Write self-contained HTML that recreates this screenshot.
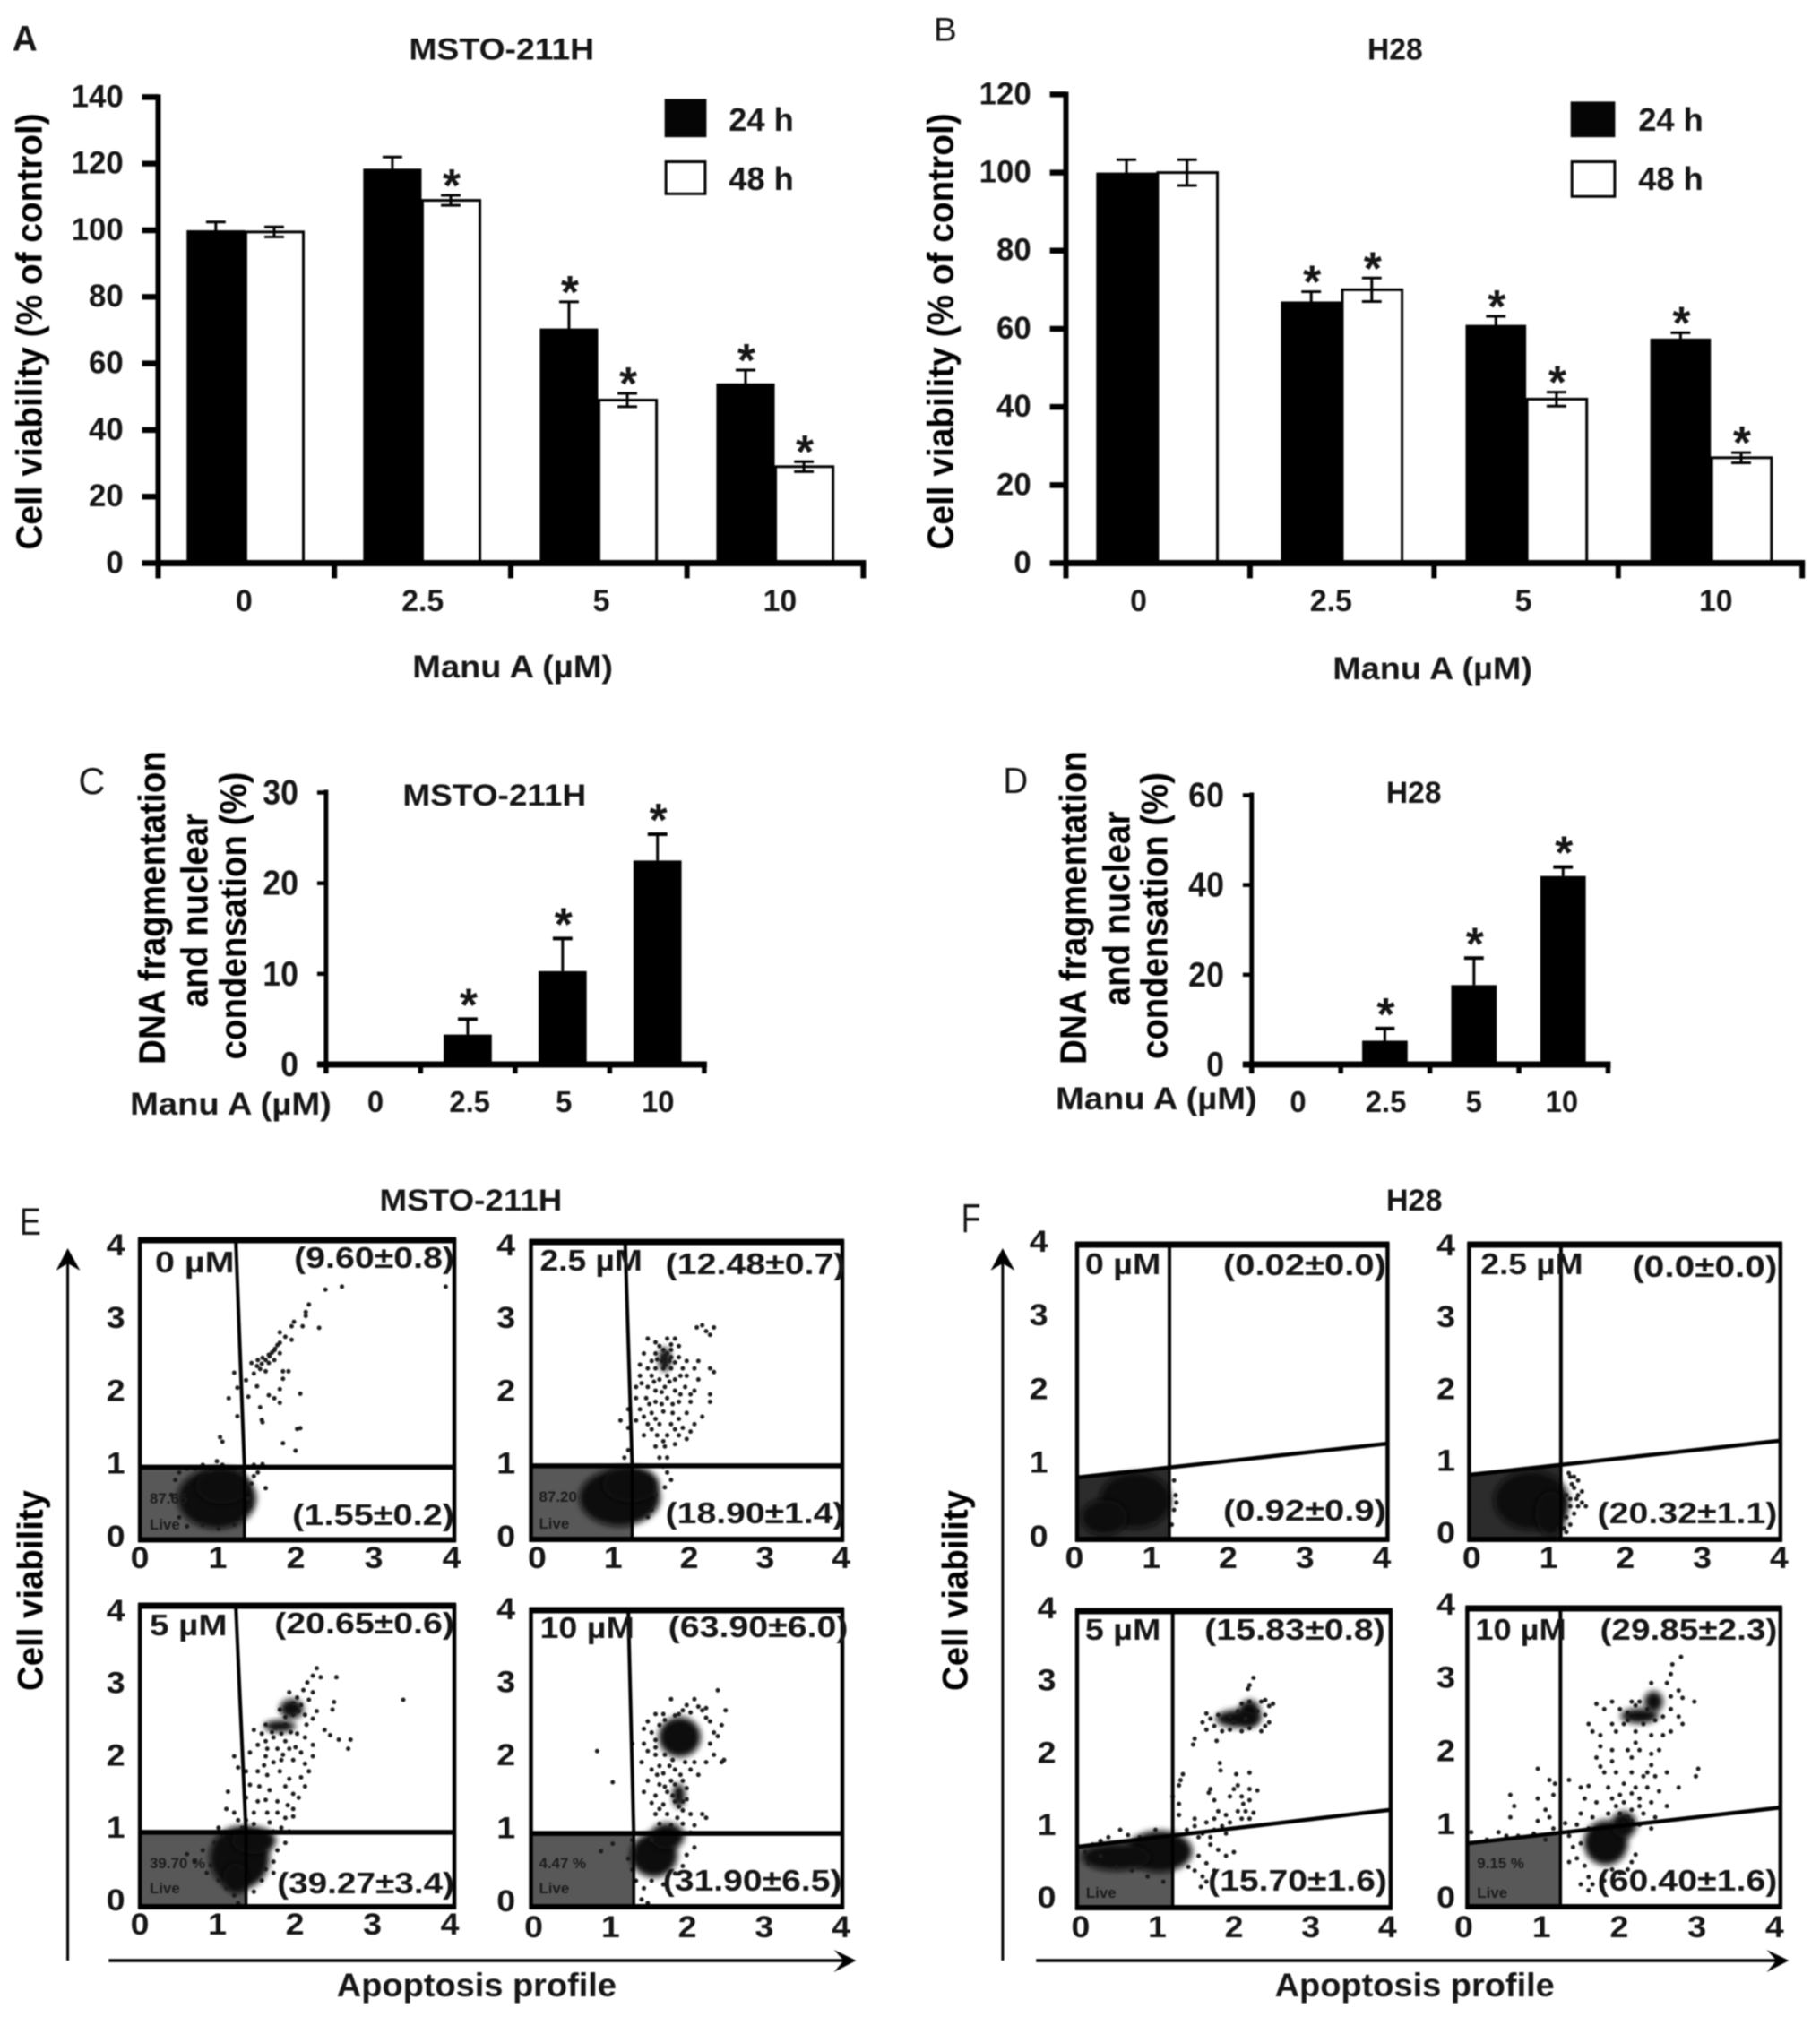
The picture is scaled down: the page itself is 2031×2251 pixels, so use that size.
<!DOCTYPE html>
<html lang="en">
<head>
<meta charset="utf-8">
<title>Manu A viability and apoptosis figure</title>
<style>
html,body{margin:0;padding:0;background:#fff;}
#figure{display:block;filter:blur(0.8px);}
text{font-family:"Liberation Sans",sans-serif;font-weight:bold;fill:#151515;}
text.r{font-weight:normal;}
text.y{fill:#000;}
text.small{fill:#1b1b1b;font-size:17px;}
</style>
</head>
<body>
<svg id="figure" xmlns="http://www.w3.org/2000/svg" width="2031" height="2251" viewBox="0 0 2031 2251">
<defs>
<filter id="soft" x="-30%" y="-30%" width="160%" height="160%"><feGaussianBlur stdDeviation="3.5"/></filter>
</defs>
<rect x="0" y="0" width="2031" height="2251" fill="#fff"/>

<!-- Panel A -->
<g transform="scale(.9942 .9945)">
<g id="marks-a"></g>
<text x="14" y="57" font-size="40" textLength="28" lengthAdjust="spacingAndGlyphs">A</text>
<text x="459" y="67" font-size="34" textLength="208" lengthAdjust="spacingAndGlyphs">MSTO-211H</text>
<text class="y" x="47" y="372" font-size="41" text-anchor="middle" textLength="490" lengthAdjust="spacingAndGlyphs" transform="rotate(-90 47 372)">Cell viability (% of control)</text>
<text x="463" y="760" font-size="35" textLength="225" lengthAdjust="spacingAndGlyphs">Manu A (µM)</text>
<g>
<rect x="746" y="111" width="47" height="43" fill="#050505"/>
<rect x="747.5" y="181.5" width="44" height="36" fill="#fff" stroke="#000" stroke-width="3"/>
<text x="818" y="147" font-size="36" textLength="73" lengthAdjust="spacingAndGlyphs">24 h</text>
<text x="818" y="213" font-size="36" textLength="73" lengthAdjust="spacingAndGlyphs">48 h</text>
</g>
</g>

<!-- Panel B -->
<g transform="translate(5.9 0) scale(.9942 .9945)">
<g id="marks-b"></g>
<text class="r" x="1042" y="46" font-size="37" textLength="26" lengthAdjust="spacingAndGlyphs">B</text>
<text x="1529" y="67" font-size="34" textLength="62" lengthAdjust="spacingAndGlyphs">H28</text>
<text class="y" x="1064" y="372" font-size="41" text-anchor="middle" textLength="490" lengthAdjust="spacingAndGlyphs" transform="rotate(-90 1064 372)">Cell viability (% of control)</text>
<text x="1490" y="762" font-size="35" textLength="224" lengthAdjust="spacingAndGlyphs">Manu A (µM)</text>
<g>
<rect x="1757" y="114" width="50" height="40" fill="#050505"/>
<rect x="1758.5" y="181.5" width="48" height="39" fill="#fff" stroke="#000" stroke-width="3"/>
<text x="1833" y="147" font-size="36" textLength="73" lengthAdjust="spacingAndGlyphs">24 h</text>
<text x="1833" y="213" font-size="36" textLength="73" lengthAdjust="spacingAndGlyphs">48 h</text>
</g>
</g>

<!-- Left column, lower panels C and E -->
<g transform="scale(.9942 1)">
<g id="marks-c"></g>
<text class="r" x="88" y="886" font-size="42" textLength="30" lengthAdjust="spacingAndGlyphs">C</text>
<text x="452" y="899" font-size="34" textLength="206" lengthAdjust="spacingAndGlyphs">MSTO-211H</text>
<g>
<text class="y" x="185" y="1013" font-size="42" text-anchor="middle" textLength="350" lengthAdjust="spacingAndGlyphs" transform="rotate(-90 185 1013)">DNA fragmentation</text>
<text class="y" x="233" y="1016" font-size="42" text-anchor="middle" textLength="217" lengthAdjust="spacingAndGlyphs" transform="rotate(-90 233 1016)">and nuclear</text>
<text class="y" x="276" y="1022" font-size="42" text-anchor="middle" textLength="321" lengthAdjust="spacingAndGlyphs" transform="rotate(-90 276 1022)">condensation (%)</text>
</g>
<text x="146" y="1244" font-size="35" textLength="226" lengthAdjust="spacingAndGlyphs">Manu A (µM)</text>

<g id="marks-e"></g>
<text class="r" x="22" y="1378" font-size="43" textLength="24" lengthAdjust="spacingAndGlyphs">E</text>
<text x="426" y="1351" font-size="34" textLength="205" lengthAdjust="spacingAndGlyphs">MSTO-211H</text>
<text class="y" x="48" y="1775" font-size="40" text-anchor="middle" textLength="224" lengthAdjust="spacingAndGlyphs" transform="rotate(-90 48 1775)">Cell viability</text>
<text x="378" y="2228" font-size="37" textLength="314" lengthAdjust="spacingAndGlyphs">Apoptosis profile</text>
<g>
<line x1="76" y1="1405" x2="76" y2="2188" stroke="#000" stroke-width="3"/>
<path d="M76 1393 L90 1418 L76 1410 L63 1418 Z" fill="#000"/>
</g>
<g>
<line x1="122" y1="2188" x2="950" y2="2188" stroke="#000" stroke-width="3.5"/>
<path d="M961 2188 L936 2176 L947 2188 L936 2201 Z" fill="#000"/>
</g>
<g>
<text x="174" y="1420" font-size="33" textLength="89" lengthAdjust="spacingAndGlyphs">0 µM</text>
<text x="330" y="1415" font-size="33" textLength="180" lengthAdjust="spacingAndGlyphs">(9.60±0.8)</text>
<text x="328" y="1702" font-size="33" textLength="182" lengthAdjust="spacingAndGlyphs">(1.55±0.2)</text>
<text class="small" x="168" y="1678">87.65</text>
<text class="small" x="168" y="1707">Live</text>

<text x="606" y="1418" font-size="33" textLength="115" lengthAdjust="spacingAndGlyphs">2.5 µM</text>
<text x="747" y="1422" font-size="33" textLength="202" lengthAdjust="spacingAndGlyphs">(12.48±0.7)</text>
<text x="747" y="1700" font-size="33" textLength="201" lengthAdjust="spacingAndGlyphs">(18.90±1.4)</text>
<text class="small" x="605" y="1676">87.20</text>
<text class="small" x="605" y="1706">Live</text>

<text x="168" y="1825" font-size="33" textLength="87" lengthAdjust="spacingAndGlyphs">5 µM</text>
<text x="308" y="1823" font-size="33" textLength="202" lengthAdjust="spacingAndGlyphs">(20.65±0.6)</text>
<text x="311" y="2113" font-size="33" textLength="199" lengthAdjust="spacingAndGlyphs">(39.27±3.4)</text>
<text class="small" x="168" y="2085">39.70 %</text>
<text class="small" x="168" y="2113">Live</text>

<text x="606" y="1828" font-size="33" textLength="106" lengthAdjust="spacingAndGlyphs">10 µM</text>
<text x="750" y="1827" font-size="33" textLength="202" lengthAdjust="spacingAndGlyphs">(63.90±6.0)</text>
<text x="744" y="2110" font-size="33" textLength="201" lengthAdjust="spacingAndGlyphs">(31.90±6.5)</text>
<text class="small" x="605" y="2085">4.47 %</text>
<text class="small" x="605" y="2113">Live</text>
</g>
</g>

<!-- Right column, lower panels D and F -->
<g transform="translate(5.9 0) scale(.9942 1)">
<g id="marks-d"></g>
<text class="r" x="1120" y="885" font-size="41" textLength="28" lengthAdjust="spacingAndGlyphs">D</text>
<text x="1550" y="896" font-size="34" textLength="62" lengthAdjust="spacingAndGlyphs">H28</text>
<g>
<text class="y" x="1213" y="1013" font-size="42" text-anchor="middle" textLength="350" lengthAdjust="spacingAndGlyphs" transform="rotate(-90 1213 1013)">DNA fragmentation</text>
<text class="y" x="1262" y="1014" font-size="42" text-anchor="middle" textLength="217" lengthAdjust="spacingAndGlyphs" transform="rotate(-90 1262 1014)">and nuclear</text>
<text class="y" x="1304" y="1022" font-size="42" text-anchor="middle" textLength="320" lengthAdjust="spacingAndGlyphs" transform="rotate(-90 1304 1022)">condensation (%)</text>
</g>
<text x="1179" y="1238" font-size="35" textLength="226" lengthAdjust="spacingAndGlyphs">Manu A (µM)</text>

<g id="marks-f"></g>
<text class="r" x="1073" y="1375" font-size="45" textLength="22" lengthAdjust="spacingAndGlyphs">F</text>
<text x="1550" y="1351" font-size="34" textLength="63" lengthAdjust="spacingAndGlyphs">H28</text>
<text class="y" x="1080" y="1775" font-size="40" text-anchor="middle" textLength="224" lengthAdjust="spacingAndGlyphs" transform="rotate(-90 1080 1775)">Cell viability</text>
<text x="1425" y="2228" font-size="37" textLength="314" lengthAdjust="spacingAndGlyphs">Apoptosis profile</text>
<g>
<line x1="1119.5" y1="1405" x2="1119.5" y2="2188" stroke="#000" stroke-width="3"/>
<path d="M1119.5 1393 L1133 1418 L1119.5 1410 L1106 1418 Z" fill="#000"/>
</g>
<g>
<line x1="1157" y1="2188" x2="1990" y2="2188" stroke="#000" stroke-width="3.5"/>
<path d="M2002 2188 L1977 2176 L1988 2188 L1977 2201 Z" fill="#000"/>
</g>
<g>
<text x="1212" y="1422" font-size="33" textLength="85" lengthAdjust="spacingAndGlyphs">0 µM</text>
<text x="1367" y="1423" font-size="33" textLength="183" lengthAdjust="spacingAndGlyphs">(0.02±0.0)</text>
<text x="1367" y="1697" font-size="33" textLength="183" lengthAdjust="spacingAndGlyphs">(0.92±0.9)</text>

<text x="1656" y="1422" font-size="33" textLength="115" lengthAdjust="spacingAndGlyphs">2.5 µM</text>
<text x="1826" y="1425" font-size="33" textLength="163" lengthAdjust="spacingAndGlyphs">(0.0±0.0)</text>
<text x="1787" y="1700" font-size="33" textLength="202" lengthAdjust="spacingAndGlyphs">(20.32±1.1)</text>

<text x="1212" y="1830" font-size="33" textLength="85" lengthAdjust="spacingAndGlyphs">5 µM</text>
<text x="1346" y="1830" font-size="33" textLength="203" lengthAdjust="spacingAndGlyphs">(15.83±0.8)</text>
<text x="1350" y="2110" font-size="33" textLength="201" lengthAdjust="spacingAndGlyphs">(15.70±1.6)</text>
<text class="small" x="1213" y="2118">Live</text>

<text x="1650" y="1830" font-size="33" textLength="102" lengthAdjust="spacingAndGlyphs">10 µM</text>
<text x="1790" y="1830" font-size="33" textLength="199" lengthAdjust="spacingAndGlyphs">(29.85±2.3)</text>
<text x="1787" y="2110" font-size="33" textLength="202" lengthAdjust="spacingAndGlyphs">(60.40±1.6)</text>
<text class="small" x="1652" y="2085">9.15 %</text>
<text class="small" x="1652" y="2118">Live</text>
</g>
</g>
</svg>

<script>
// ---------- Panel A data ----------
const aCategories = ['0', '2.5', '5', '10'];
const aTicks = [0, 20, 40, 60, 80, 100, 120, 140];
const aValues24 = [100, 118.5, 70.5, 54];
const aValues48 = [99.5, 109, 49, 29];
const aErrors24 = [2.5, 3.5, 8, 4];
const aErrors48 = [1.5, 1.5, 2, 1.5];
const aStars24 = [false, false, true, true];
const aStars48 = [false, true, true, true];

// ---------- Panel B data ----------
const bCategories = ['0', '2.5', '5', '10'];
const bTicks = [0, 20, 40, 60, 80, 100, 120];
const bValues24 = [100, 67, 61, 57.5];
const bValues48 = [100, 70, 42, 27];
const bErrors24 = [3.3, 2.5, 2.2, 1.5];
const bErrors48 = [3.3, 3, 1.8, 1.3];
const bStars24 = [false, true, true, true];
const bStars48 = [false, true, true, true];

// ---------- Panel C data ----------
const cCategories = ['0', '2.5', '5', '10'];
const cTicks = [0, 10, 20, 30];
const cValues = [0, 3.3, 10.3, 22.5];
const cErrors = [0, 1.7, 3.6, 2.9];
const cStars = [false, true, true, true];

// ---------- Panel D data ----------
const dCategories = ['0', '2.5', '5', '10'];
const dTicks = [0, 20, 40, 60];
const dValues = [0, 5.3, 17.7, 42];
const dErrors = [0, 2.7, 6, 2];
const dStars = [false, true, true, true];

// ---------- Flow plot data (log-decade units) ----------
const flowTicks = [0, 1, 2, 3, 4];

const e1Points = [[2.36,3.34],[2.57,3.38],[3.89,3.38],[2.15,3.14],[2.11,3.04],[2.11,2.99],[1.96,2.91],[1.93,2.85],[2.07,2.85],[2.28,2.83],[1.78,2.77],[1.85,2.71],[1.93,2.67],[1.78,2.63],[1.71,2.53],[1.64,2.47],[1.56,2.43],[1.78,2.49],[1.42,2.36],[1.49,2.32],[1.64,2.36],[1.71,2.4],[1.53,2.28],[1.45,2.22],[1.6,2.25],[1.82,2.25],[1.89,2.25],[1.2,2.23],[1.35,2.13],[1.24,2.03],[1.49,2.05],[1.78,2.01],[1.82,2.15],[2.04,1.95],[1.13,1.89],[1.38,1.91],[1.64,1.93],[1.71,1.89],[1.53,1.77],[1.78,1.83],[1.24,1.65],[1.56,1.57],[2.04,1.49],[1.02,1.37],[1.05,1.31],[1.82,1.29],[1.98,1.19],[0.98,1.05],[1.6,0.69],[1.56,1.01],[2.0,1.48],[1.55,1.6],[1.65,2.45],[1.6,2.4],[1.68,2.5],[1.55,2.35],[1.5,2.4],[1.72,2.55],[1.75,2.6],[1.45,1.0],[1.5,0.9],[1.45,0.85],[1.42,0.75],[0.6,0.95],[0.8,1.0],[1.05,1.0],[0.45,0.8],[1.38,0.55],[0.5,0.3],[1.2,0.2],[0.4,0.6],[0.5,0.9],[0.7,0.95],[0.9,0.92],[1.2,0.95],[1.3,0.9],[1.35,0.75],[1.4,0.45],[1.3,0.3],[1.0,0.15],[0.8,0.2],[0.6,0.18]];
const e1Core = [[0.98,0.55,0.5,0.4],[1.05,0.72,0.34,0.24]];

const e2Points = [[2.13,2.85],[2.2,2.88],[2.25,2.8],[2.3,2.75],[2.35,2.85],[1.5,2.7],[1.6,2.65],[1.75,2.7],[1.85,2.7],[1.9,2.6],[1.7,2.55],[1.8,2.55],[1.6,2.5],[1.45,2.5],[1.55,2.4],[1.7,2.45],[1.8,2.45],[1.9,2.45],[2.0,2.4],[2.15,2.4],[2.3,2.3],[2.35,2.25],[1.4,2.35],[1.5,2.3],[1.6,2.3],[1.7,2.3],[1.8,2.3],[1.95,2.3],[2.1,2.3],[1.4,2.2],[1.55,2.2],[1.65,2.15],[1.75,2.2],[1.85,2.15],[2.0,2.2],[2.15,2.15],[1.35,2.05],[1.5,2.05],[1.6,2.0],[1.72,2.05],[1.85,2.0],[1.98,2.05],[2.1,2.0],[1.35,1.9],[1.48,1.9],[1.6,1.85],[1.75,1.9],[1.9,1.85],[2.05,1.85],[2.3,1.85],[2.3,1.95],[1.25,1.75],[1.4,1.75],[1.55,1.7],[1.7,1.72],[1.82,1.7],[2.0,1.7],[2.2,1.65],[1.35,1.6],[1.5,1.55],[1.65,1.55],[1.8,1.55],[1.95,1.5],[2.1,1.55],[1.15,1.6],[1.25,1.5],[1.45,1.4],[1.62,1.4],[1.75,1.4],[1.9,1.4],[2.0,1.35],[1.6,1.25],[1.72,1.25],[1.65,1.1],[1.75,1.1],[1.2,1.1],[1.25,1.2],[1.7,0.98],[1.75,0.9],[1.8,0.8],[1.72,0.7],[1.6,0.6],[1.55,0.4],[1.5,0.3],[1.65,2.6],[1.68,2.4],[1.72,2.35],[1.78,2.4],[1.75,2.5],[1.62,2.42],[1.8,2.62],[1.85,2.38],[1.92,2.2],[1.78,2.12],[1.58,2.12],[1.42,2.1],[1.68,1.98],[1.92,1.95],[2.05,1.95],[1.52,1.82],[1.68,1.82],[1.82,1.82],[1.45,1.65],[1.6,1.62],[1.9,1.62],[2.05,1.45],[1.55,1.48],[1.85,1.48],[1.7,1.32],[1.85,1.28]];
const e2Core = [[1.14,0.56,0.52,0.38],[1.28,0.74,0.36,0.24],[1.72,2.42,0.08,0.16]];

const e3Points = [[2.25,3.17],[2.2,3.07],[2.3,3.05],[2.5,3.05],[2.13,2.98],[2.08,2.88],[2.2,2.85],[2.47,2.72],[2.45,2.62],[3.35,2.75],[1.9,2.85],[2.0,2.78],[2.15,2.75],[2.05,2.68],[2.25,2.6],[1.78,2.62],[1.85,2.52],[2.2,2.5],[2.35,2.35],[2.42,2.28],[2.68,2.22],[2.65,2.1],[2.53,2.22],[1.45,2.35],[1.55,2.3],[1.6,2.2],[1.7,2.25],[1.85,2.2],[2.0,2.3],[2.1,2.25],[2.2,2.15],[1.5,2.15],[1.75,2.1],[1.9,2.1],[2.05,2.05],[2.2,2.0],[1.4,2.05],[1.6,2.0],[1.8,1.95],[1.95,1.95],[2.1,1.9],[2.15,1.8],[1.2,2.0],[1.25,1.85],[1.35,1.8],[1.5,1.8],[1.62,1.75],[1.78,1.8],[1.9,1.7],[2.05,1.72],[2.1,1.6],[1.4,1.62],[1.52,1.6],[1.65,1.55],[1.85,1.6],[1.95,1.5],[2.02,1.45],[1.12,1.53],[1.35,1.45],[1.5,1.4],[1.6,1.42],[1.75,1.4],[1.88,1.35],[1.95,1.3],[1.45,1.25],[1.62,1.25],[1.75,1.25],[1.85,1.18],[1.1,1.3],[1.2,1.25],[1.35,1.15],[1.45,1.1],[1.65,1.12],[1.8,1.05],[1.95,1.2],[1.3,1.05],[1.5,1.0],[1.7,1.0],[1.9,1.0],[1.0,1.05],[1.25,1.15],[0.6,0.7],[0.7,0.6],[0.8,0.75],[0.9,0.55],[0.85,0.45],[1.0,0.35],[1.1,0.25],[1.2,0.15],[1.25,0.05],[1.6,0.5],[1.7,0.6],[1.75,0.75],[1.85,0.85],[1.55,0.35],[1.45,0.2],[0.95,0.85],[1.05,0.95],[1.7,0.45],[1.6,2.42],[1.72,2.38],[1.85,2.42],[1.95,2.55],[2.02,2.6],[1.68,2.32],[1.8,2.3],[1.92,2.32],[1.62,2.1],[1.82,2.02],[1.98,2.12],[1.7,1.92],[1.58,1.88],[2.12,2.42],[2.1,2.55],[1.95,2.7]];
const e3Core = [[1.27,0.65,0.38,0.42],[1.45,0.88,0.28,0.18],[1.22,0.38,0.16,0.2],[1.93,2.63,0.15,0.13],[1.78,2.4,0.2,0.08]];

const e4Points = [[2.4,2.92],[1.8,2.8],[2.0,2.72],[2.15,2.7],[2.25,2.68],[2.1,2.8],[2.5,2.65],[1.9,2.6],[2.3,2.5],[2.45,2.45],[1.5,2.5],[1.45,2.4],[1.55,2.35],[1.6,2.25],[1.45,2.2],[1.3,2.2],[1.5,2.1],[1.6,2.05],[1.42,1.95],[1.65,1.9],[2.1,1.95],[2.25,1.95],[2.45,1.95],[2.48,1.98],[1.05,1.68],[1.55,1.85],[1.7,1.8],[1.85,1.85],[2.05,1.85],[2.15,1.78],[1.5,1.7],[1.65,1.65],[1.8,1.7],[1.95,1.7],[2.0,1.6],[1.45,1.55],[1.6,1.5],[1.75,1.55],[1.9,1.55],[2.0,1.45],[1.55,1.4],[1.7,1.38],[1.85,1.42],[1.95,1.3],[1.6,1.25],[1.75,1.25],[1.88,1.2],[2.05,1.25],[2.2,1.25],[2.25,1.2],[1.65,1.12],[1.8,1.1],[1.95,1.12],[2.1,1.1],[1.6,1.0],[1.75,0.98],[1.9,1.0],[2.05,1.0],[1.55,0.9],[1.3,0.9],[1.35,0.75],[1.25,0.65],[1.3,0.5],[1.35,0.35],[1.45,0.25],[1.42,0.1],[1.5,0.05],[1.95,0.55],[2.0,0.7],[2.1,0.8],[1.85,0.45],[1.7,0.3],[1.55,0.35],[1.6,2.6],[1.65,2.45],[2.35,2.35],[2.3,2.2],[2.35,2.05],[1.6,2.15],[1.7,2.6],[2.2,2.65],[2.4,2.3],[1.85,1.65],[1.9,1.35],[0.85,2.1],[1.05,0.85],[0.9,0.75],[1.95,2.65],[2.05,2.62],[1.85,2.58],[1.72,2.52],[2.25,2.55],[1.72,2.05],[1.82,1.98],[1.98,1.95],[1.78,1.9],[1.62,1.78],[1.92,1.78],[1.72,1.62],[1.82,1.5],[1.95,1.42],[1.65,1.32]];
const e4Core = [[1.58,0.7,0.3,0.3],[1.75,0.95,0.22,0.18],[1.91,2.29,0.27,0.27],[1.9,1.5,0.08,0.16]];

const f1Points = [[1.25,0.8],[1.27,0.6],[1.25,0.4],[1.22,0.2],[1.28,0.5]];
const f1Core = [[0.75,0.53,0.46,0.38],[0.35,0.3,0.3,0.24]];

const f2Points = [[1.3,0.85],[1.35,0.7],[1.4,0.6],[1.45,0.5],[1.3,0.45],[1.35,0.35],[1.25,0.3],[1.3,0.2],[1.25,0.1],[1.35,0.85],[1.4,0.8],[1.45,0.65],[1.3,0.55],[1.25,0.6],[1.4,0.45],[1.32,0.75],[1.28,0.9],[1.38,0.55],[1.22,0.15],[1.5,0.45]];
const f2Core = [[0.8,0.53,0.48,0.4],[1.05,0.35,0.2,0.3]];

const f3Points = [[2.25,3.1],[2.2,3.0],[2.18,2.95],[2.4,2.8],[2.45,2.72],[2.4,2.6],[1.65,2.62],[1.7,2.55],[1.6,2.5],[1.65,2.4],[1.75,2.45],[1.85,2.38],[1.8,2.6],[1.95,2.58],[2.05,2.65],[2.1,2.75],[2.2,2.78],[2.35,2.78],[2.5,2.75],[2.45,2.5],[2.4,2.45],[2.35,2.38],[2.2,2.42],[2.1,2.38],[1.95,2.4],[2.0,2.5],[2.15,2.55],[2.3,2.65],[1.5,2.28],[1.48,2.2],[1.78,2.25],[1.82,1.95],[1.83,1.85],[2.03,1.8],[2.2,1.82],[1.35,1.8],[1.32,1.72],[1.3,1.65],[2.05,1.65],[1.7,1.6],[1.68,1.55],[2.0,1.6],[2.2,1.6],[2.3,1.58],[1.95,1.5],[2.1,1.5],[2.2,1.45],[2.12,1.4],[1.75,1.45],[1.3,1.4],[1.22,1.5],[1.8,1.3],[1.9,1.25],[2.05,1.3],[2.15,1.3],[2.25,1.28],[1.3,1.25],[1.75,1.2],[2.1,1.2],[2.2,1.2],[1.95,1.15],[1.5,1.2],[1.5,1.1],[1.65,1.15],[1.75,1.05],[1.85,1.1],[1.4,1.05],[1.6,1.0],[1.9,1.0],[1.55,0.95],[1.7,0.95],[1.7,0.85],[1.8,0.78],[1.9,0.7],[2.0,0.75],[1.55,0.7],[1.65,0.6],[1.5,0.5],[1.75,0.5],[1.65,0.35],[1.6,0.42],[1.58,0.28],[1.42,0.55],[0.55,1.05],[0.65,0.98],[0.4,0.95],[0.2,0.85],[0.3,0.9],[0.8,0.95],[1.0,1.05],[0.1,0.75],[0.3,0.7],[0.15,0.6],[0.5,0.55],[0.7,0.5],[0.9,0.42],[1.1,0.35]];
const f3Core = [[1.05,0.76,0.42,0.28],[0.5,0.68,0.44,0.18],[2.2,2.62,0.14,0.18],[2.05,2.55,0.28,0.12]];

const f4Points = [[2.73,3.35],[2.62,3.25],[2.6,3.12],[2.35,3.0],[2.55,3.0],[2.7,2.9],[2.6,2.82],[2.75,2.8],[2.9,2.75],[2.1,2.75],[1.65,2.72],[1.75,2.65],[1.85,2.75],[1.95,2.65],[2.05,2.6],[2.15,2.7],[2.6,2.65],[2.7,2.55],[2.75,2.45],[1.55,2.45],[1.6,2.35],[1.7,2.3],[1.85,2.45],[1.9,2.35],[2.0,2.45],[2.15,2.35],[2.35,2.3],[2.5,2.3],[2.6,2.35],[2.15,2.2],[1.7,2.15],[1.85,2.1],[2.05,2.1],[2.2,2.1],[2.35,2.05],[2.45,2.1],[1.65,2.0],[1.7,1.88],[1.85,1.95],[2.1,2.0],[2.35,1.9],[2.3,1.8],[1.75,1.8],[1.9,1.8],[2.1,1.8],[2.25,1.75],[2.4,1.75],[2.55,1.8],[2.95,1.85],[2.92,1.75],[0.9,1.85],[1.05,1.7],[1.12,1.65],[1.3,1.7],[1.45,1.6],[1.55,1.62],[1.8,1.6],[2.0,1.65],[2.15,1.6],[2.3,1.6],[2.45,1.55],[2.7,1.6],[0.55,1.5],[0.6,1.35],[0.9,1.45],[1.0,1.3],[1.1,1.5],[1.5,1.45],[1.65,1.4],[1.85,1.45],[2.0,1.4],[2.2,1.45],[2.35,1.4],[2.55,1.35],[1.45,1.25],[1.6,1.2],[1.8,1.25],[1.95,1.25],[2.1,1.3],[2.25,1.25],[2.4,1.2],[0.55,1.2],[0.9,1.15],[1.05,1.2],[1.1,1.05],[1.25,1.12],[1.4,1.1],[1.55,1.05],[1.65,1.05],[2.0,1.1],[2.1,1.15],[2.2,1.1],[2.35,1.05],[0.05,1.0],[0.4,1.0],[0.5,0.95],[0.65,0.95],[0.25,0.9],[0.85,0.98],[1.0,0.9],[1.3,0.95],[1.35,0.8],[1.45,0.85],[1.4,0.65],[1.3,0.6],[1.5,0.55],[1.55,0.4],[1.6,0.3],[1.45,0.3],[1.55,0.22],[2.1,0.6],[2.15,0.7],[2.05,0.5],[1.95,0.45],[1.75,0.35],[1.85,0.5],[1.95,1.5],[2.1,1.52],[2.05,1.2],[1.9,1.35],[2.2,1.35],[2.3,2.65],[2.4,2.5],[2.25,2.45],[2.05,2.5],[2.5,2.55],[2.2,2.75]];
const f4Core = [[1.77,0.86,0.28,0.3],[2.2,2.56,0.24,0.1],[2.38,2.75,0.12,0.14],[2.0,1.1,0.16,0.18]];

// ---------- SVG helpers ----------
const SVG_NS = 'http://www.w3.org/2000/svg';

function make(tag, attrs, parent) {
  const el = document.createElementNS(SVG_NS, tag);
  for (const k in attrs) el.setAttribute(k, attrs[k]);
  parent.appendChild(el);
  return el;
}

function group(name, parent) {
  const g = make('g', {}, parent);
  
  
  return g;
}

function line(x1, y1, x2, y2, width, name, parent) {
  const l = make('line', {x1: x1, y1: y1, x2: x2, y2: y2, stroke: '#000', 'stroke-width': width}, parent);
  
  
  return l;
}

function label(str, x, y, size, anchor, name, parent, len) {
  const t = make('text', {x: x, y: y, 'font-size': size, 'text-anchor': anchor}, parent);
  
  
  if (len) {
    t.setAttribute('textLength', len);
    t.setAttribute('lengthAdjust', 'spacingAndGlyphs');
  }
  t.textContent = str;
  return t;
}

function star(x, errTop, lift, parent) {
  const s = make('text', {x: x, y: errTop - lift + 27, 'font-size': 52, 'text-anchor': 'middle'}, parent);
  
  
  s.textContent = '*';
}

function errorBar(cx, yTop, yBottom, capHalf, parent) {
  const g = group('error-bar', parent);
  line(cx, yTop, cx, yBottom, 3, 'error-stem', g);
  line(cx - capHalf, yTop, cx + capHalf, yTop, 3, 'error-cap-upper', g);
  line(cx - capHalf, yBottom, cx + capHalf, yBottom, 3, 'error-cap-lower', g);
}

// ---------- Grouped bar charts (panels A and B) ----------
function groupedBars(o) {
  const root = group(o.name, o.parent);
  const yScale = v => o.y0 - v / o.yMax * (o.y0 - o.yTop);
  const barX = i => o.barStart + i * o.barStep;

  o.values24.forEach((v, i) => {
    const b = make('rect', {x: barX(i), y: yScale(v), width: o.barW, height: o.y0 - yScale(v), fill: '#000'}, root);
    
    
    const cx = barX(i) + o.barW / 2;
    const top = yScale(v + o.errors24[i]);
    errorBar(cx, top, yScale(v - o.errors24[i]), 11, root);
    if (o.stars24[i]) star(cx + 1, top, 20, root);
  });
  o.values48.forEach((v, i) => {
    const x = barX(i) + o.barW;
    const b = make('rect', {x: x + 1, y: yScale(v), width: o.barW - 1, height: o.y0 - yScale(v), fill: '#fff', stroke: '#000', 'stroke-width': 3}, root);
    
    
    const cx = x + o.barW / 2;
    const top = yScale(v + o.errors48[i]);
    errorBar(cx, top, yScale(v - o.errors48[i]), 11, root);
    if (o.stars48[i]) star(cx + 1, top, 20, root);
  });

  line(o.axisX, o.yTop - 3, o.axisX, o.y0 + 17, 6, 'y-axis', root);
  line(o.axisX - 2, o.y0, o.axisEnd + 3, o.y0, 7, 'x-axis', root);
  o.ticks.forEach(t => {
    line(o.axisX - 18, yScale(t), o.axisX, yScale(t), 6.5, 'y-tick', root);
    label(String(t), o.axisX - 39, yScale(t) + 11, 35, 'end', 'y-tick-label', root);
  });
  o.categories.forEach((c, i) => {
    label(c, o.labelStart + i * o.labelStep, 686, 34, 'middle', 'x-tick-label', root);
  });
  for (let i = 0; i <= o.categories.length; i++) {
    const tx = o.axisX + (o.axisEnd - o.axisX) * i / o.categories.length;
    line(tx, o.y0, tx, o.y0 + 17, 6, 'x-tick', root);
  }
}

groupedBars({parent: document.getElementById('marks-a'), name: 'panel-a-chart', categories: aCategories, ticks: aTicks, values24: aValues24, values48: aValues48,
  errors24: aErrors24, errors48: aErrors48, stars24: aStars24, stars48: aStars48,
  y0: 632, yTop: 109, yMax: 140, axisX: 177.5, axisEnd: 969, barStart: 209.5, barStep: 198.2, barW: 65.5, labelStart: 274, labelStep: 200.5});

groupedBars({parent: document.getElementById('marks-b'), name: 'panel-b-chart', categories: bCategories, ticks: bTicks, values24: bValues24, values48: bValues48,
  errors24: bErrors24, errors48: bErrors48, stars24: bStars24, stars48: bStars48,
  y0: 632, yTop: 106, yMax: 120, axisX: 1190.5, axisEnd: 2017, barStart: 1224.5, barStep: 207.3, barW: 68, labelStart: 1272, labelStep: 216});

// ---------- Single-series bars (panels C and D) ----------
function singleBars(o) {
  const root = group(o.name, o.parent);
  const yScale = v => o.y0 - v / o.yMax * (o.y0 - o.yTop);
  const barX = i => o.barStart + i * o.barStep;

  o.values.forEach((v, i) => {
    const b = make('rect', {x: barX(i), y: yScale(v), width: o.barW, height: o.y0 - yScale(v), fill: '#000'}, root);
    
    
    const cx = barX(i) + o.barW / 2;
    if (o.errors[i] > 0) {
      const top = yScale(v + o.errors[i]);
      line(cx, top, cx, yScale(v), 3, 'error-stem', root);
      line(cx - 11, top, cx + 11, top, 4, 'error-cap-upper', root);
      if (o.stars[i]) star(cx + 1, top, 25, root);
    }
  });

  line(o.axisX, o.yTop - 3, o.axisX, o.y0 + 10, 5, 'y-axis', root);
  line(o.axisX - 10, o.y0, o.axisEnd + 3, o.y0, 7, 'x-axis', root);
  o.ticks.forEach(t => {
    line(o.axisX - 10, yScale(t), o.axisX, yScale(t), 4.5, 'y-tick', root);
    label(String(t), o.axisX - 31, yScale(t) + 13, 39, 'end', 'y-tick-label', root, String(t).length * 20);
  });
  o.categories.forEach((c, i) => {
    label(c, o.labelStart + i * o.labelStep, o.labelY, 33, 'middle', 'x-tick-label', root);
  });
  for (let i = 0; i <= o.categories.length; i++) {
    const tx = o.axisX + (o.axisEnd - o.axisX) * i / o.categories.length;
    line(tx, o.y0, tx, o.y0 + 10, 5.5, 'x-tick', root);
  }
}

singleBars({parent: document.getElementById('marks-c'), name: 'panel-c-chart', categories: cCategories, ticks: cTicks, values: cValues, errors: cErrors, stars: cStars,
  y0: 1188, yTop: 884.5, yMax: 30, axisX: 366, axisEnd: 790.5, barStart: 391.5, barStep: 106.5, barW: 54, labelStart: 421.5, labelStep: 105.7, labelY: 1241});

singleBars({parent: document.getElementById('marks-d'), name: 'panel-d-chart', categories: dCategories, ticks: dTicks, values: dValues, errors: dErrors, stars: dStars,
  y0: 1188, yTop: 887.5, yMax: 60, axisX: 1399, axisEnd: 1799, barStart: 1423, barStep: 100, barW: 51, labelStart: 1451, labelStep: 98.7, labelY: 1241});

// ---------- Flow cytometry dot plots (panels E and F) ----------
function flowPlot(o) {
  const root = group(o.name, o.parent);
  const xS = v => o.left + v / 4 * (o.right - o.left);
  const yS = v => o.bottom - v / 4 * (o.bottom - o.top);
  const gateAt = v => o.gateLeft + (o.gateRight - o.gateLeft) * v / 4;

  const live = make('polygon', {
    points: xS(0) + ',' + yS(0) + ' ' + xS(o.gateBottom) + ',' + yS(0) + ' ' + xS(o.gateBottom) + ',' + yS(gateAt(o.gateBottom)) + ' ' + xS(0) + ',' + yS(gateAt(0)),
    fill: o.liveFill
  }, root);
  
  

  o.core.forEach(c => {
    const e = make('ellipse', {cx: xS(c[0]), cy: yS(c[1]), rx: c[2] / 4 * (o.right - o.left), ry: c[3] / 4 * (o.bottom - o.top), fill: '#0c0c0c', filter: 'url(#soft)'}, root);
    
    
  });
  o.points.forEach(p => {
    const d = make('circle', {cx: xS(p[0]), cy: yS(p[1]), r: 2.5, fill: '#1c1c1c'}, root);
    
    
  });

  const frame = make('rect', {x: o.left, y: o.top, width: o.right - o.left, height: o.bottom - o.top, fill: 'none', stroke: '#000', 'stroke-width': 4.5}, root);
  
  
  line(o.left - 2, o.top, o.right + 2, o.top, 7, 'plot-frame-top', root);
  line(o.left - 2, o.bottom, o.right + 2, o.bottom, 6, 'plot-frame-bottom', root);
  line(xS(o.gateTop), yS(4), xS(o.gateBottom), yS(gateAt(o.gateBottom)), 4, 'vertical-gate', root);
  line(xS(o.gateBottom), yS(gateAt(o.gateBottom)), xS(o.gateBottom), yS(0), 3.5, 'vertical-gate-lower', root);
  line(xS(0), yS(o.gateLeft), xS(4), yS(o.gateRight), o.gateWidth, 'horizontal-gate', root);

  flowTicks.forEach((t, i) => {
    label(String(t), o.xLabel0 + i * o.xLabelStep, o.xLabelY, 34, 'middle', 'x-tick-label', root, 21);
    label(String(t), o.yLabelX, o.yLabel0 - i * o.yLabelStep, 34, 'middle', 'y-tick-label', root, 21);
  });
}

const greyLive = '#585858';
const darkLive = '#2c2c2c';
const marksE = document.getElementById('marks-e');
const marksF = document.getElementById('marks-f');

flowPlot({parent: marksE, name: 'panel-e-plot-0um', points: e1Points, core: e1Core, liveFill: greyLive,
  left: 157, right: 510, top: 1384, bottom: 1718.5, gateTop: 1.22, gateBottom: 1.33, gateLeft: 0.97, gateRight: 0.97, gateWidth: 5.5,
  xLabel0: 157, xLabelStep: 87.5, xLabelY: 1750, yLabelX: 130, yLabel0: 1726, yLabelStep: 81.3});
flowPlot({parent: marksE, name: 'panel-e-plot-2-5um', points: e2Points, core: e2Core, liveFill: greyLive,
  left: 596, right: 945.5, top: 1386, bottom: 1718, gateTop: 1.21, gateBottom: 1.30, gateLeft: 0.99, gateRight: 0.99, gateWidth: 5.5,
  xLabel0: 603, xLabelStep: 85.25, xLabelY: 1750, yLabelX: 568, yLabel0: 1726, yLabelStep: 81.3});
flowPlot({parent: marksE, name: 'panel-e-plot-5um', points: e3Points, core: e3Core, liveFill: greyLive,
  left: 157, right: 510, top: 1792, bottom: 2128, gateTop: 1.22, gateBottom: 1.35, gateLeft: 0.99, gateRight: 0.99, gateWidth: 5.5,
  xLabel0: 157, xLabelStep: 87, xLabelY: 2159, yLabelX: 130, yLabel0: 2132, yLabelStep: 80.75});
flowPlot({parent: marksE, name: 'panel-e-plot-10um', points: e4Points, core: e4Core, liveFill: greyLive,
  left: 596, right: 945.5, top: 1797, bottom: 2128, gateTop: 1.25, gateBottom: 1.32, gateLeft: 0.99, gateRight: 0.99, gateWidth: 5.5,
  xLabel0: 599, xLabelStep: 86.25, xLabelY: 2162, yLabelX: 568, yLabel0: 2133, yLabelStep: 81.5});
flowPlot({parent: marksF, name: 'panel-f-plot-0um', points: f1Points, core: f1Core, liveFill: darkLive,
  left: 1203, right: 1551.5, top: 1389, bottom: 1718, gateTop: 1.19, gateBottom: 1.19, gateLeft: 0.84, gateRight: 1.30, gateWidth: 4.5,
  xLabel0: 1200, xLabelStep: 86.25, xLabelY: 1750, yLabelX: 1160, yLabel0: 1726, yLabelStep: 82.25});
flowPlot({parent: marksF, name: 'panel-f-plot-2-5um', points: f2Points, core: f2Core, liveFill: darkLive,
  left: 1643, right: 1992.5, top: 1389, bottom: 1718, gateTop: 1.18, gateBottom: 1.18, gateLeft: 0.875, gateRight: 1.34, gateWidth: 4.5,
  xLabel0: 1646, xLabelStep: 86.25, xLabelY: 1750, yLabelX: 1617, yLabel0: 1722, yLabelStep: 80.25});
flowPlot({parent: marksF, name: 'panel-f-plot-5um', points: f3Points, core: f3Core, liveFill: greyLive,
  left: 1203, right: 1555, top: 1798, bottom: 2129, gateTop: 1.22, gateBottom: 1.22, gateLeft: 0.82, gateRight: 1.32, gateWidth: 4.5,
  xLabel0: 1207, xLabelStep: 86.1, xLabelY: 2162, yLabelX: 1169, yLabel0: 2129, yLabelStep: 80.75});
flowPlot({parent: marksF, name: 'panel-f-plot-10um', points: f4Points, core: f4Core, liveFill: greyLive,
  left: 1641, right: 1992.5, top: 1795, bottom: 2128, gateTop: 1.19, gateBottom: 1.19, gateLeft: 0.85, gateRight: 1.33, gateWidth: 4.5,
  xLabel0: 1637, xLabelStep: 87.25, xLabelY: 2162, yLabelX: 1617, yLabel0: 2129, yLabelStep: 81.75});
</script>
</body>
</html>
